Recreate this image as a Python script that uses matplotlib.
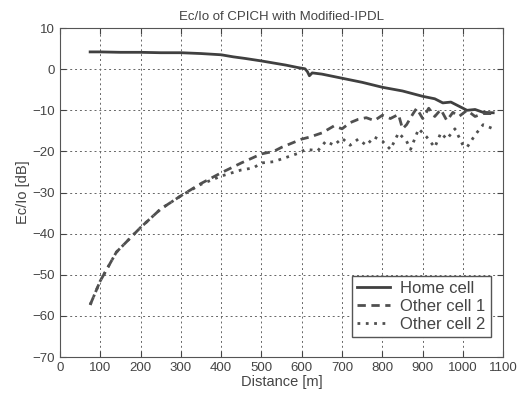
import matplotlib.pyplot as plt

plt.rcParams['font.family'] = ['Liberation Sans', 'DejaVu Sans']

# Home cell
home_d = [75, 100, 150, 200, 250, 300, 350, 400, 430, 460, 500, 530, 560, 590,
          608, 614, 619, 626, 650, 700, 750, 800, 850, 900, 930, 950, 970, 990,
          1010, 1030, 1050, 1075]
home_v = [4.2, 4.2, 4.1, 4.1, 4.0, 4.0, 3.8, 3.5, 3.0, 2.6, 2.0, 1.5, 1.0, 0.4,
          0.1, -0.6, -1.6, -0.9, -1.2, -2.2, -3.2, -4.4, -5.3, -6.6, -7.2, -8.2,
          -8.0, -9.0, -10.0, -9.8, -10.5, -10.6]

# Other cell 1
c1_d = [75, 100, 140, 200, 250, 300, 350, 400, 450, 500, 530, 550, 580, 600,
        620, 650, 680, 700, 720, 740, 760, 780, 800, 820, 840, 850, 860, 875,
        885, 900, 915, 930, 945, 960, 975, 990, 1010, 1030, 1050, 1075]
c1_v = [-57.3, -51.5, -44.5, -38.5, -34.0, -30.8, -27.8, -25.2, -22.8, -20.6,
        -20.0, -19.0, -17.8, -17.0, -16.5, -15.5, -13.8, -14.5, -13.0, -12.2,
        -11.8, -12.5, -11.2, -12.0, -11.0, -14.5, -13.5, -11.0, -9.5, -12.0,
        -9.5, -11.5, -9.8, -12.5, -10.5, -11.5, -10.0, -11.5, -10.8, -10.8]

# Other cell 2
c2_d = [75, 100, 140, 200, 250, 300, 350, 400, 450, 480, 500, 530, 560, 590,
        610, 640, 660, 680, 700, 720, 740, 760, 780, 800, 820, 840, 860, 870,
        890, 910, 930, 945, 960, 980, 1000, 1010, 1030, 1050, 1075]
c2_v = [-57.3, -51.5, -44.5, -38.5, -34.0, -30.8, -28.0, -26.0, -24.5, -24.0,
        -22.8, -22.5, -21.5, -20.5, -19.5, -19.8, -17.5, -18.5, -16.8, -18.5,
        -17.0, -18.5, -16.5, -17.5, -19.5, -15.5, -17.5, -19.5, -14.5, -16.5,
        -19.0, -15.5, -17.0, -14.5, -18.5, -19.0, -16.0, -13.5, -14.5]

line_col = '#404040'
txt_col = '#444444'

fig = plt.figure(figsize=(5.21, 3.95), dpi=100)
ax = fig.add_axes([0.115, 0.096, 0.851, 0.833])

ax.plot(home_d, home_v, color=line_col, lw=2.0, ls='-', label='Home cell')
ax.plot(c1_d, c1_v, color='#505050', lw=2.0, ls=(0, (3, 2)), label='Other cell 1')
ax.plot(c2_d, c2_v, color='#505050', lw=2.0, ls=(0, (1, 2)), label='Other cell 2')

ax.set_xlim(0, 1100)
ax.set_ylim(-70, 10)
ax.set_xticks(range(0, 1101, 100))
ax.set_yticks(range(-70, 11, 10))
ax.grid(True, color='#666666', ls=(0, (2, 3)), lw=0.7)
ax.tick_params(direction='in', top=True, right=True, labelsize=9.5,
               colors=txt_col, length=4)
for s in ax.spines.values():
    s.set_color('#555555')

ax.set_title('Ec/Io of CPICH with Modified-IPDL', fontsize=9.5, color=txt_col)
ax.set_xlabel('Distance [m]', fontsize=10.5, color=txt_col, labelpad=1)
ax.set_ylabel('Ec/Io [dB]', fontsize=10.5, color=txt_col, labelpad=2)

leg = ax.legend(loc='lower right', fontsize=12, handlelength=2.0,
                fancybox=False, edgecolor='#555555', framealpha=1,
                borderpad=0.3, labelspacing=0.2, handletextpad=0.6,
                bbox_to_anchor=(0.99, 0.035))
for t in leg.get_texts():
    t.set_color(txt_col)

fig.savefig('out.png', dpi=100)
